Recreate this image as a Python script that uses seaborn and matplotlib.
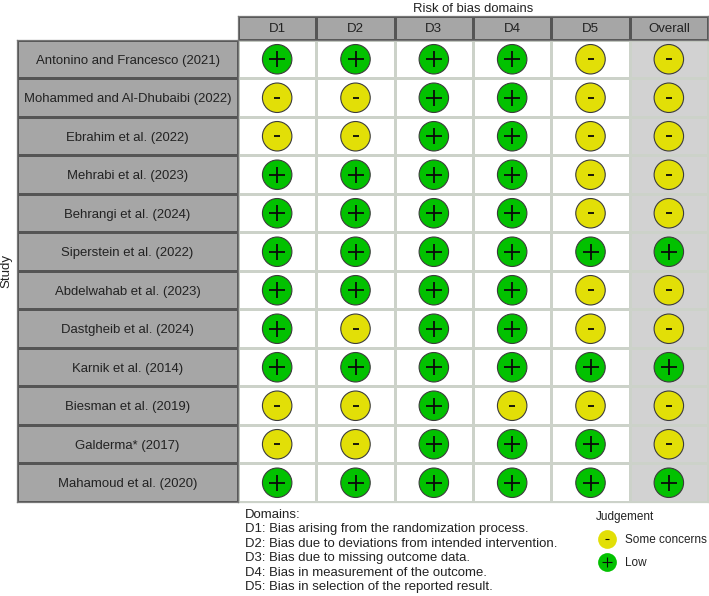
import matplotlib
matplotlib.use('Agg')
import matplotlib.pyplot as plt
from matplotlib.lines import Line2D
from matplotlib.legend_handler import HandlerTuple
import seaborn as sns
import pandas as pd
import numpy as np

studies = ['Antonino and Francesco (2021)', 'Mohammed and Al-Dhubaibi (2022)', 'Ebrahim et al. (2022)',
           'Mehrabi et al. (2023)', 'Behrangi et al. (2024)', 'Siperstein et al. (2022)',
           'Abdelwahab et al. (2023)', 'Dastgheib et al. (2024)', 'Karnik et al. (2014)',
           'Biesman et al. (2019)', 'Galderma* (2017)', 'Mahamoud et al. (2020)']
domains = ['D1', 'D2', 'D3', 'D4', 'D5', 'Overall']

d1 = ['+', '-', '-', '+', '+', '+', '+', '+', '+', '-', '-', '+']
d2 = ['+', '-', '-', '+', '+', '+', '+', '-', '+', '-', '-', '+']
d3 = ['+', '+', '+', '+', '+', '+', '+', '+', '+', '+', '+', '+']
d4 = ['+', '+', '+', '+', '+', '+', '+', '+', '+', '-', '+', '+']
d5 = ['-', '-', '-', '-', '-', '+', '-', '-', '+', '-', '+', '+']
overall = ['-', '-', '-', '-', '-', '+', '-', '-', '+', '-', '-', '+']

domain_notes = ['Domains:',
                'D1: Bias arising from the randomization process.',
                'D2: Bias due to deviations from intended intervention.',
                'D3: Bias due to missing outcome data.',
                'D4: Bias in measurement of the outcome.',
                'D5: Bias in selection of the reported result.']

GREEN = '#02C100'
YELLOW = '#E2DF07'
EDGE = '#3c3c3c'
GREY = '#a6a6a6'
TXT = '#222222'

sns.set_theme(style='white')
plt.rcParams['font.family'] = ['Liberation Sans', 'DejaVu Sans']

W, H = 709, 596
fig = plt.figure(figsize=(W / 100, H / 100), dpi=100)


def px_axes(x0, y0, x1, y1):
    return fig.add_axes([x0 / W, 1 - y1 / H, (x1 - x0) / W, (y1 - y0) / H])


def border(a, color):
    for sp in a.spines.values():
        sp.set_visible(True)
        sp.set_color(color)
        sp.set_linewidth(0.9)


judge = pd.DataFrame({'D1': d1, 'D2': d2, 'D3': d3, 'D4': d4, 'D5': d5, 'Overall': overall}, index=studies)

# grid background, overall column is shaded
ax = px_axes(238, 40, 708, 502)
back = np.zeros((len(studies), len(domains)))
back[:, -1] = 1
sns.heatmap(back, ax=ax, cmap=['#ffffff', '#d2d2d2'], cbar=False, linewidths=1.0, linecolor='#ccd2c9',
            xticklabels=False, yticklabels=False)
border(ax, '#ccd2c9')

long = judge.reset_index(names='study').melt(id_vars='study', var_name='domain', value_name='judgement')
long['x'] = long['domain'].map({d: i + 0.5 for i, d in enumerate(domains)})
long['y'] = long['study'].map({s: i + 0.5 for i, s in enumerate(studies)})

sns.scatterplot(data=long, x='x', y='y', hue='judgement', palette={'+': GREEN, '-': YELLOW}, s=450,
                edgecolor=EDGE, linewidth=0.8, legend=False, ax=ax, zorder=3, clip_on=False)
plus = long[long['judgement'] == '+']
minus = long[long['judgement'] == '-']
sns.scatterplot(data=plus, x='x', y='y', marker='+', s=135, color='#0a0a0a', linewidth=1.3, legend=False, ax=ax, zorder=4)
sns.scatterplot(data=minus, x='x', y='y', marker='_', s=25, color='#0a0a0a', linewidth=1.3, legend=False, ax=ax, zorder=4)
ax.set_xlabel('')
ax.set_ylabel('')
ax.set_xlim(0, len(domains))
ax.set_ylim(len(studies), 0)

# header strip
top = px_axes(238, 16, 708, 40)
sns.heatmap(np.zeros((1, len(domains))), ax=top, cmap=[GREY], cbar=False, linewidths=0.8, linecolor='#555555',
            xticklabels=False, yticklabels=False)
border(top, '#777777')
for i, d in enumerate(domains):
    top.text(i + 0.5, 0.5, d, ha='center', va='center_baseline', fontsize=9.5, color=TXT)
top.set_xlabel('')
top.set_ylabel('')

# study label column
side = px_axes(17, 40, 238, 502)
sns.heatmap(np.zeros((len(studies), 1)), ax=side, cmap=[GREY], cbar=False, linewidths=0.8, linecolor='#555555',
            xticklabels=False, yticklabels=False)
border(side, '#777777')
for i, s in enumerate(studies):
    side.text(0.5, i + 0.5, s, ha='center', va='center_baseline', fontsize=9.45, color=TXT)
side.set_xlabel('')
side.set_ylabel('')

fig.text(473 / W, 1 - 7 / H, 'Risk of bias domains', ha='center', va='center_baseline', fontsize=9.4, color=TXT)
fig.text(6 / W, 1 - 271 / H, 'Study', ha='center', va='center', rotation=90, fontsize=9.5, color=TXT)

for i, line in enumerate(domain_notes):
    fig.text(245 / W, 1 - (513 + i * 14.55) / H, line, ha='left', va='center_baseline', fontsize=9.45, color=TXT)


def swatch(face, sym, size):
    circ = Line2D([], [], ls='', marker='o', ms=13.5, mfc=face, mec='none')
    mark = Line2D([], [], ls='', marker=sym, ms=size, mec='#0a0a0a', mew=0.8)
    return (circ, mark)


handles = [swatch(YELLOW, '_', 3), swatch(GREEN, '+', 7)]
leg = fig.legend(handles, ['Some concerns', 'Low'], title='Judgement', handler_map={tuple: HandlerTuple(ndivide=1, pad=0)},
                 loc='upper left', bbox_to_anchor=(592 / W, 1 - 507 / H), frameon=False, fontsize=8.5, title_fontsize=8.5,
                 labelspacing=0.95, handlelength=1.9, handletextpad=0.56, borderpad=0.3, borderaxespad=0, labelcolor=TXT,
                 alignment='left')
leg.get_title().set_color(TXT)

fig.savefig('out.png', dpi=100)
